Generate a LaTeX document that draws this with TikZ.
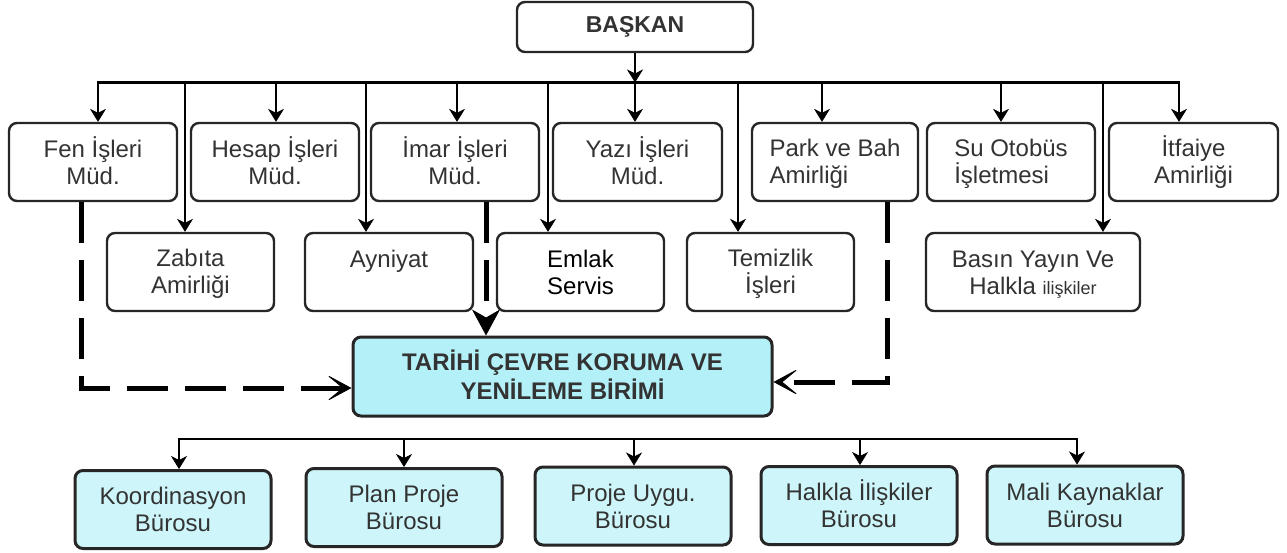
\documentclass[tikz,border=0pt]{standalone}
\usepackage{fontspec}
\setmainfont{Liberation Sans}
\usetikzlibrary{arrows.meta}
\definecolor{txt}{HTML}{333333}
\definecolor{cyanA}{HTML}{B3F0F8}
\definecolor{cyanB}{HTML}{CEF6FA}
\definecolor{edge}{HTML}{262626}
\newcommand{\twol}[2]{\rule{0pt}{21pt}#1\\#2\rule[-4pt]{0pt}{4pt}}
\newcommand{\twob}[2]{\rule{0pt}{20pt}#1\\#2\rule[-4pt]{0pt}{4pt}}
\begin{document}
\begin{tikzpicture}[x=1pt,y=-1pt,
  box/.style={draw=edge, line width=2.4pt, rounded corners=8pt, fill=white, text=txt,
    align=center, inner sep=0pt, font=\fontsize{24}{27}\selectfont},
  boxA/.style={box, minimum width=168pt, minimum height=78pt},
  hbox/.style={box, line width=3pt, fill=cyanB, minimum width=196pt, minimum height=78pt},
  conn/.style={line width=2.6pt, -{Stealth[length=13pt,width=16pt,inset=4pt,line width=0.6pt]}},
  bus/.style={line width=2.6pt, line cap=rect},
  dline/.style={line width=5pt, dash pattern=on 41pt off 17pt,
    -{Stealth[length=26pt,width=28pt,inset=17pt,line width=0.8pt]}},
  dlineB/.style={line width=5pt, dash pattern=on 41pt off 17pt,
    -{Stealth[length=26pt,width=28pt,inset=8pt,line width=0.8pt]}},
]
\useasboundingbox (0,0) rectangle (1287,552);

% top
\node[box, minimum width=236pt, minimum height=50pt, font=\bfseries\fontsize{23}{27}\selectfont] (baskan) at (635,27) {BAŞKAN};

% first row
\node[boxA] (fen) at (93,162) {\twol{Fen İşleri}{Müd.}};
\node[boxA] (hesap) at (275,162) {\twol{Hesap İşleri}{Müd.}};
\node[boxA] (imar) at (455,162) {\twol{İmar İşleri}{Müd.}};
\node[boxA, minimum width=169pt] (yazi) at (637.5,162) {\twol{Yazı İşleri}{Müd.}};
\node[boxA, minimum width=166pt, align=left] (park) at (835,162) {\twol{Park ve Bah}{Amirliği}};
\node[boxA, align=left] (su) at (1011,162) {\twol{Su Otobüs}{İşletmesi}};
\node[boxA, minimum width=169pt] (itf) at (1193.5,162) {\twol{İtfaiye}{Amirliği}};

% second row
\node[boxA, minimum width=167pt] (zab) at (190.5,272) {\twol{Zabıta}{Amirliği}};
\node[boxA] (ayn) at (389,272) {\twol{Ayniyat}{}};
\node[boxA, minimum width=167pt, text=black] (eml) at (580.5,272) {\twol{Emlak}{Servis}};
\node[boxA, minimum width=167pt] (tem) at (770.5,272) {\twol{Temizlik}{İşleri}};
\node[boxA, minimum width=214pt] (bas) at (1033,272) {\twol{Basın Yayın Ve}{Halkla {\fontsize{18}{27}\selectfont ilişkiler}}};

% central unit
\node[box, line width=3pt, fill=cyanA, minimum width=419pt, minimum height=79pt,
  font=\bfseries\fontsize{24}{29}\selectfont] (tar) at (562.5,376.5) {\twob{TARİHİ ÇEVRE KORUMA VE}{YENİLEME BİRİMİ}};

% bottom row
\node[hbox] (koo) at (173,509.5) {\twol{Koordinasyon}{Bürosu}};
\node[hbox] (pla) at (404,507.5) {\twol{Plan Proje}{Bürosu}};
\node[hbox] (pro) at (633,506) {\twol{Proje Uygu.}{Bürosu}};
\node[hbox] (hal) at (859,505.5) {\twol{Halkla İlişkiler}{Bürosu}};
\node[hbox] (mal) at (1085,505) {\twol{Mali Kaynaklar}{Bürosu}};

% top bus
\coordinate (jfen) at (98,82.5);
\coordinate (jzab) at (185,82.5);
\coordinate (jhes) at (276,82.5);
\coordinate (jayn) at (366,82.5);
\coordinate (jima) at (457,82.5);
\coordinate (jeml) at (548,82.5);
\coordinate (jyaz) at (635,82.5);
\coordinate (jtem) at (738,82.5);
\coordinate (jpar) at (822,82.5);
\coordinate (jsu) at (1001,82.5);
\coordinate (jbas) at (1103,82.5);
\coordinate (jitf) at (1179,82.5);

\draw[bus] (jfen) -- (jitf);
\draw[conn] (baskan.south) -- (jyaz);
\foreach \j/\n in {jfen/fen, jhes/hesap, jima/imar, jyaz/yazi, jpar/park, jsu/su, jitf/itf,
                   jzab/zab, jayn/ayn, jeml/eml, jtem/tem, jbas/bas}
  \draw[conn] (\j) -- (\j |- \n.north);

% dashed links
\coordinate (cL) at (81,388);
\coordinate (cI) at (486,0);
\coordinate (cR) at (887,382);
\draw[dline] (cL |- fen.south) -- (cL) -- (tar.west |- cL);
\draw[dlineB] (cI |- imar.south) -- (cI |- tar.north);
\draw[dline] (cR |- park.south) -- (cR) -- (tar.east |- cR);

% bottom bus
\coordinate (k1) at (179,439);
\coordinate (k2) at (404,439);
\coordinate (k3) at (634,439);
\coordinate (k4) at (860,439);
\coordinate (k5) at (1077,439);
\draw[bus] (k1) -- (k5);
\foreach \k/\n in {k1/koo, k2/pla, k3/pro, k4/hal, k5/mal}
  \draw[conn] (\k) -- (\k |- \n.north);
\end{tikzpicture}
\end{document}
